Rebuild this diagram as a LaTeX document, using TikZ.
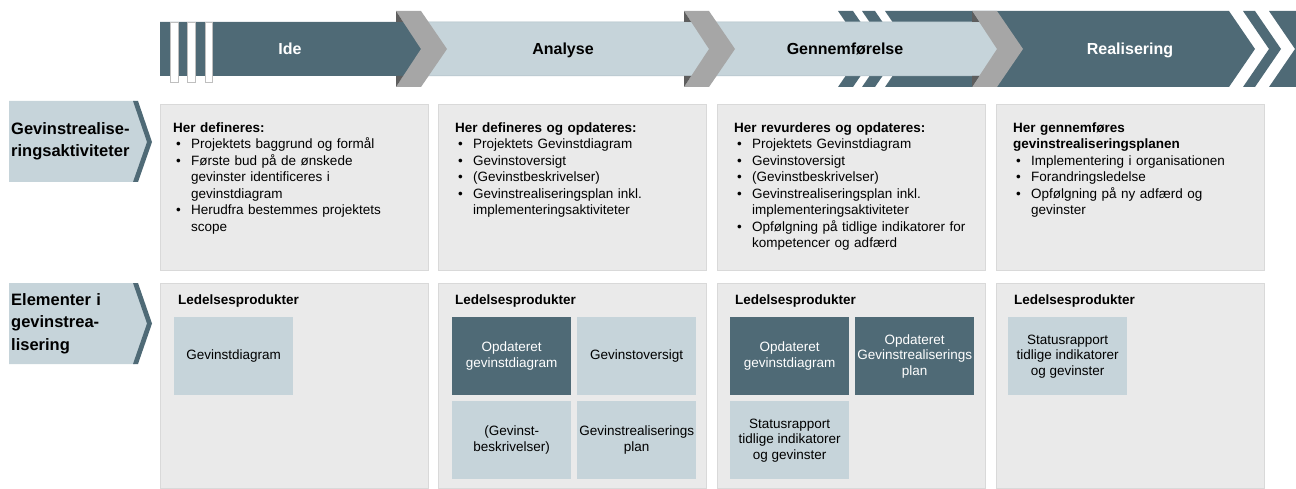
\documentclass[tikz,border=0pt]{standalone}
\usepackage{fontspec}
\setmainfont{Liberation Sans}
\setlength\parindent{0pt}
\definecolor{cDark}{HTML}{4F6A76}
\definecolor{cLight}{HTML}{C6D4DA}
\definecolor{cLightEdge}{HTML}{AEBDC4}
\definecolor{cGray}{HTML}{A6A6A6}
\definecolor{cShade}{HTML}{5E5E5E}
\definecolor{cBox}{HTML}{EAEAEA}
\definecolor{cBoxLine}{HTML}{D9D9D9}
\newcommand{\bu}{\makebox[18pt][l]{\hspace{3pt}•}}
\newcommand{\ct}{\hspace*{18pt}}
\begin{document}
\begin{tikzpicture}[x=1pt,y=-1pt,
  boxbg/.style={fill=cBox,draw=cBoxLine,line width=0.6pt},
  coltext/.style={anchor=north west,inner sep=0pt,text width=252pt,align=left,font=\fontsize{13.5}{16.5}\selectfont},
  prodhead/.style={anchor=west,inner sep=0pt,font=\bfseries\fontsize{13.5}{16}\selectfont},
  prod/.style={minimum width=119pt,minimum height=78pt,inner sep=1pt,align=center,anchor=north west,font=\fontsize{13.5}{15.5}\selectfont},
  prodlight/.style={prod,fill=cLight,text=black},
  proddark/.style={prod,fill=cDark,text=white},
  phase/.style={anchor=base,inner sep=0pt,font=\bfseries\fontsize{16}{19}\selectfont},
  rowlabel/.style={anchor=west,inner sep=0pt,align=left,text width=130pt,font=\bfseries\fontsize{16.5}{22.5}\selectfont},
  chevfill/.style={fill=cGray},
  shade/.style={fill=cShade},
  lightband/.style={fill=cLight,draw=cLightEdge,line width=0.5pt},
  stripe/.style={fill=white,draw=black!25,line width=0.5pt}
]
\useasboundingbox (0,0) rectangle (1296,489);

% ---------- top phase band ----------
% Realisering (dark, striped tail and head)
\fill[cDark] (838,11)--(853,11)--(879,49)--(853,87)--(838,87)--(864,49)--cycle;
\fill[cDark] (862,11)--(875,11)--(901,49)--(875,87)--(862,87)--(888,49)--cycle;
\fill[cDark] (885,11)--(1229,11)--(1255,49)--(1229,87)--(885,87)--(911,49)--cycle;
\fill[cDark] (1243,11)--(1255,11)--(1281,49)--(1255,87)--(1243,87)--(1269,49)--cycle;
\fill[cDark] (1269,11)--(1330,11)--(1356,49)--(1330,87)--(1269,87)--(1295,49)--cycle;
% light bands
\path[lightband] (410,22)--(700,22)--(715,49)--(700,76)--(410,76)--(430,49)--cycle;
\path[lightband] (705,22)--(985,22)--(1000,49)--(985,76)--(705,76)--(725,49)--cycle;
% Ide band
\fill[cDark] (160,22)--(405,22)--(425,49)--(405,76)--(160,76)--cycle;
\path[stripe] (170,22) rectangle (178,82);
\path[stripe] (187,22) rectangle (195,82);
\path[stripe] (205,22) rectangle (212,82);
% chevrons
\foreach \cx in {396,684,972}{
  \path[chevfill] (\cx,11)--(\cx+25,11)--(\cx+51,49)--(\cx+25,87)--(\cx,87)--(\cx+25,49)--cycle;
  \path[shade] (\cx,11)--(\cx,22)--(\cx+7.2,22)--cycle;
  \path[shade] (\cx,87)--(\cx,76)--(\cx+7.2,76)--cycle;
}
\node[phase,text=white] (ide) at (290,55) {Ide};
\node[phase] (analyse) at (563,55) {Analyse};
\node[phase] (gennem) at (845,55) {Gennemførelse};
\node[phase,text=white] (real) at (1130,55) {Realisering};

% ---------- row labels ----------
\fill[cLight] (9,101)--(135,101)--(149,142)--(135,182)--(9,182)--cycle;
\fill[cDark] (133,101)--(138,101)--(152,142)--(138,182)--(133,182)--(147,142)--cycle;
\node[rowlabel] (lab1) at (11,141.5) {Gevinstrealise-\\ringsaktiviteter};
\fill[cLight] (9,283)--(135,283)--(149,323.5)--(135,364)--(9,364)--cycle;
\fill[cDark] (133,283)--(138,283)--(152,323.5)--(138,364)--(133,364)--(147,323.5)--cycle;
\node[rowlabel] (lab2) at (11,323.5) {Elementer i\\gevinstrea-\\lisering};

% ---------- content boxes ----------
\foreach \bx in {160,438,717,996}{
  \path[boxbg] (\bx,104) rectangle (\bx+268,270);
  \path[boxbg] (\bx,283) rectangle (\bx+268,488);
}

\node[coltext] (t1) at (173,122.5) {\textbf{Her defineres:}\\
\bu Projektets baggrund og formål\\
\bu Første bud på de ønskede\\
\ct gevinster identificeres i\\
\ct gevinstdiagram\\
\bu Herudfra bestemmes projektets\\
\ct scope};

\node[coltext] (t2) at (455,122.5) {\textbf{Her defineres og opdateres:}\\
\bu Projektets Gevinstdiagram\\
\bu Gevinstoversigt\\
\bu (Gevinstbeskrivelser)\\
\bu Gevinstrealiseringsplan inkl.\\
\ct implementeringsaktiviteter};

\node[coltext] (t3) at (734,122.5) {\textbf{Her revurderes og opdateres:}\\
\bu Projektets Gevinstdiagram\\
\bu Gevinstoversigt\\
\bu (Gevinstbeskrivelser)\\
\bu Gevinstrealiseringsplan inkl.\\
\ct implementeringsaktiviteter\\
\bu Opfølgning på tidlige indikatorer for\\
\ct kompetencer og adfærd};

\node[coltext] (t4) at (1013,122.5) {\textbf{Her gennemføres}\\
\textbf{gevinstrealiseringsplanen}\\
\bu Implementering i organisationen\\
\bu Forandringsledelse\\
\bu Opfølgning på ny adfærd og\\
\ct gevinster};

% ---------- products ----------
\node[prodhead] (h1) at (178,301) {Ledelsesprodukter};
\node[prodhead] (h2) at (455,301) {Ledelsesprodukter};
\node[prodhead] (h3) at (735,301) {Ledelsesprodukter};
\node[prodhead] (h4) at (1014,301) {Ledelsesprodukter};

\node[prodlight] (p11) at (174,317) {Gevinstdiagram};

\node[proddark] (p21) at (452,317) {Opdateret\\gevinstdiagram};
\node[prodlight] (p22) at (577,317) {Gevinstoversigt};
\node[prodlight] (p23) at (452,401) {(Gevinst-\\beskrivelser)};
\node[prodlight] (p24) at (577,401) {Gevinstrealiserings\\plan};

\node[proddark] (p31) at (730,317) {Opdateret\\gevinstdiagram};
\node[proddark] (p32) at (855,317) {Opdateret\\Gevinstrealiserings\\plan};
\node[prodlight] (p33) at (730,401) {Statusrapport\\tidlige indikatorer\\og gevinster};

\node[prodlight] (p41) at (1008,317) {Statusrapport\\tidlige indikatorer\\og gevinster};
\end{tikzpicture}
\end{document}
